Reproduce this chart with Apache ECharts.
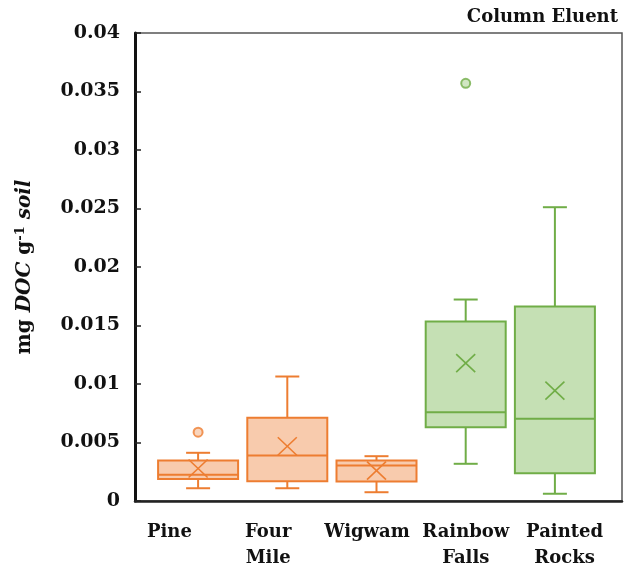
<!DOCTYPE html>
<html>
<head>
<meta charset="utf-8">
<script src="https://cdn.jsdelivr.net/npm/echarts@6/dist/echarts.min.js"></script>
<style>html,body{margin:0;padding:0;background:#fff}#c{width:624px;height:571px}</style>
</head>
<body>
<div id="c"></div>
<script>
const categories = ['Pine', 'Four Mile', 'Wigwam', 'Rainbow Falls', 'Painted Rocks'];
const axisLabels = ['Pine', 'Four\nMile', 'Wigwam', 'Rainbow\nFalls', 'Painted\nRocks'];
const lowWhisker = [0.00109, 0.00109, 0.00075, 0.00318, 0.00062];
const q1 = [0.00188, 0.00169, 0.00167, 0.00631, 0.00238];
const median = [0.00224, 0.00389, 0.00303, 0.00759, 0.00703];
const q3 = [0.00346, 0.00711, 0.00346, 0.01534, 0.01662];
const highWhisker = [0.00412, 0.01064, 0.00383, 0.01722, 0.02511];
const mean = [0.00278, 0.00468, 0.0026, 0.01178, 0.00944];
const outliers = [[0, 0.00588], [3, 0.0357]];
const yMin = 0, yMax = 0.04, yStep = 0.005;
const strokeColors = ['#ED7D31', '#ED7D31', '#ED7D31', '#70AD47', '#70AD47'];
const fillColors = ['#F8CBAD', '#F8CBAD', '#F8CBAD', '#C5E0B4', '#C5E0B4'];

const serif = 'DejaVu Serif';
const boxData = categories.map((c, i) => [i, lowWhisker[i], q1[i], median[i], q3[i], highWhisker[i], mean[i]]);

const chart = echarts.init(document.getElementById('c'));
chart.setOption({
  backgroundColor: '#fff',
  animation: false,
  title: {
    text: 'Column Eluent', right: 1, top: 3,
    textStyle: { fontFamily: serif, fontWeight: 'bold', fontSize: 18, color: '#111' }
  },
  grid: [
    { left: 135, top: 33, width: 487, height: 468, show: true, borderColor: '#555', borderWidth: 1.5, backgroundColor: 'transparent' },
    { left: 153.5, top: 33, width: 446, height: 468 },
    { left: 120, top: 33, width: 494, height: 468 }
  ],
  xAxis: [
    { gridIndex: 0, type: 'category', data: categories, axisLine: { lineStyle: { color: '#222', width: 2.5 } }, axisTick: { show: false }, axisLabel: { show: false } },
    { gridIndex: 1, type: 'category', data: categories, show: false },
    { gridIndex: 2, type: 'category', data: axisLabels, axisLine: { show: false }, axisTick: { show: false },
      axisLabel: { interval: 0, margin: 20, fontFamily: serif, fontWeight: 'bold', fontSize: 18, lineHeight: 26, color: '#111', align: 'center' } }
  ],
  yAxis: [
    { gridIndex: 0, type: 'value', min: yMin, max: yMax, interval: yStep,
      name: '{n|mg }{i|DOC}{n| g}{sup|-1}{i| soil}',
      nameLocation: 'middle', nameGap: 100, nameRotate: 90,
      nameTextStyle: {
        rich: {
          n: { fontFamily: serif, fontWeight: 'bold', fontSize: 20, color: '#111' },
          i: { fontFamily: serif, fontWeight: 'bold', fontStyle: 'italic', fontSize: 20, color: '#111' },
          sup: { fontFamily: serif, fontWeight: 'bold', fontSize: 13, color: '#111', verticalAlign: 'top', padding: [0, 0, 8, 0] }
        }
      },
      axisLine: { show: true, lineStyle: { color: '#111', width: 3 } },
      axisTick: { show: true, inside: true, length: 6, lineStyle: { color: '#222', width: 1.5 } },
      splitLine: { show: false },
      axisLabel: { margin: 15, fontFamily: serif, fontWeight: 'bold', fontSize: 19, color: '#111' } },
    { gridIndex: 1, type: 'value', min: yMin, max: yMax, interval: yStep, show: false },
    { gridIndex: 2, type: 'value', min: yMin, max: yMax, interval: yStep, show: false }
  ],
  series: [
    {
      type: 'custom', xAxisIndex: 1, yAxisIndex: 1,
      data: boxData,
      encode: { x: 0, y: [1, 2, 3, 4, 5, 6] },
      renderItem: function (params, api) {
        const i = api.value(0);
        const idx = params.dataIndex;
        const stroke = strokeColors[idx], fill = fillColors[idx];
        const pLow = api.coord([i, api.value(1)]);
        const pQ1 = api.coord([i, api.value(2)]);
        const pMed = api.coord([i, api.value(3)]);
        const pQ3 = api.coord([i, api.value(4)]);
        const pHigh = api.coord([i, api.value(5)]);
        const pMean = api.coord([i, api.value(6)]);
        const x = pQ1[0];
        const hw = 40, cw = 12, mw = 9.5, mh = 9;
        const ls = { stroke: stroke, lineWidth: 2 };
        return {
          type: 'group',
          children: [
            { type: 'line', shape: { x1: x, y1: pHigh[1], x2: x, y2: pQ3[1] }, style: ls },
            { type: 'line', shape: { x1: x, y1: pQ1[1], x2: x, y2: pLow[1] }, style: ls },
            { type: 'line', shape: { x1: x - cw, y1: pHigh[1], x2: x + cw, y2: pHigh[1] }, style: ls },
            { type: 'line', shape: { x1: x - cw, y1: pLow[1], x2: x + cw, y2: pLow[1] }, style: ls },
            { type: 'rect', shape: { x: x - hw, y: pQ3[1], width: hw * 2, height: pQ1[1] - pQ3[1] }, style: { fill: fill, stroke: stroke, lineWidth: 2 } },
            { type: 'line', shape: { x1: x - hw, y1: pMed[1], x2: x + hw, y2: pMed[1] }, style: ls },
            { type: 'line', shape: { x1: x - mw, y1: pMean[1] - mh, x2: x + mw, y2: pMean[1] + mh }, style: { stroke: stroke, lineWidth: 1.6 } },
            { type: 'line', shape: { x1: x - mw, y1: pMean[1] + mh, x2: x + mw, y2: pMean[1] - mh }, style: { stroke: stroke, lineWidth: 1.6 } }
          ]
        };
      }
    },
    {
      type: 'scatter', xAxisIndex: 1, yAxisIndex: 1,
      data: outliers.map(o => ({ value: o, itemStyle: { color: fillColors[o[0]], borderColor: strokeColors[o[0]], borderWidth: 2 } })),
      symbol: 'circle', symbolSize: 9
    }
  ]
});
</script>
</body>
</html>
